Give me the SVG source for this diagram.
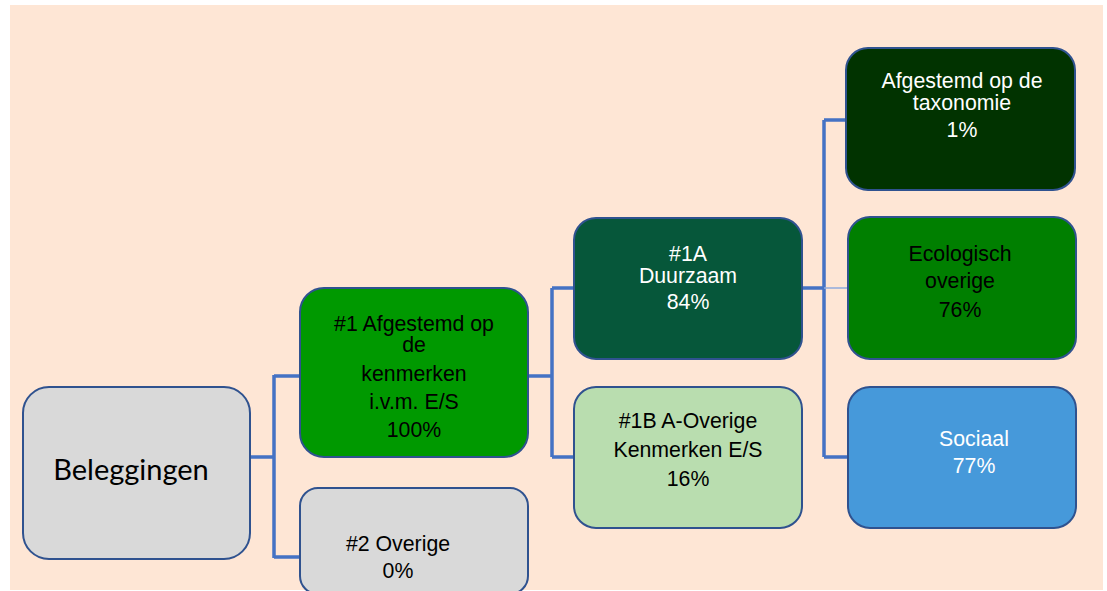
<svg xmlns="http://www.w3.org/2000/svg" width="1107" height="591" viewBox="0 0 1107 591">
<style>
.box{stroke:#2F528F;stroke-width:2}
.t{font-family:"Liberation Sans",Arial,sans-serif;font-size:21.3px;text-anchor:middle}
.w{fill:#FFFFFF}
.k{fill:#000000}
.c{fill:none;stroke:#4472C4;stroke-width:3.5}
</style>
<rect x="0" y="0" width="1107" height="591" fill="#FFFFFF"/>
<rect x="10" y="5" width="1093" height="585" fill="#FEE6D5"/>
<g id="connectors">
<path class="c" d="M250,457 H274 M274,375 V558 M274,376 H300 M274,557 H300"/>
<path class="c" d="M528,376 H552 M552,288 V457 M552,288 H574 M552,457 H574"/>
<path class="c" d="M802,288 H824 M824,120 V457 M824,120 H846 M824,457 H848"/>
<path d="M824,288 H848" fill="none" stroke="#8FAADC" stroke-width="1.5"/>
</g>
<g id="beleggingen">
<rect class="box" x="23" y="387" width="227" height="172" rx="26" fill="#D9D9D9"/>
<text x="131" y="480" text-anchor="middle" font-family="Lato,'Open Sans',sans-serif" font-size="29" fill="#000">Beleggingen</text>
</g>
<g id="n1">
<rect class="box" x="300" y="288" width="228" height="169" rx="24" fill="#009900"/>
<text class="t k"><tspan x="414" y="331">#1 Afgestemd op</tspan><tspan x="414" y="352">de</tspan><tspan x="414" y="381">kenmerken</tspan><tspan x="414" y="409">i.v.m. E/S</tspan><tspan x="414" y="437">100%</tspan></text>
</g>
<g id="n2">
<rect class="box" x="300" y="488" width="228" height="106" rx="18" fill="#D9D9D9"/>
<text class="t k"><tspan x="398" y="551">#2 Overige</tspan><tspan x="398" y="578">0%</tspan></text>
</g>
<g id="n1a">
<rect class="box" x="574" y="218" width="228" height="141" rx="22" fill="#06573A"/>
<text class="t w"><tspan x="688" y="261">#1A</tspan><tspan x="688" y="283">Duurzaam</tspan><tspan x="688" y="309">84%</tspan></text>
</g>
<g id="n1b">
<rect class="box" x="574" y="387" width="228" height="141" rx="22" fill="#B9DDAF"/>
<text class="t k"><tspan x="688" y="428">#1B A-Overige</tspan><tspan x="688" y="457">Kenmerken E/S</tspan><tspan x="688" y="486">16%</tspan></text>
</g>
<g id="taxonomie">
<rect class="box" x="846" y="48" width="229" height="142" rx="22" fill="#013300"/>
<text class="t w"><tspan x="962" y="88">Afgestemd op de</tspan><tspan x="962" y="110">taxonomie</tspan><tspan x="962" y="137">1%</tspan></text>
</g>
<g id="ecologisch">
<rect class="box" x="848" y="217" width="228" height="142" rx="22" fill="#007F00"/>
<text class="t k"><tspan x="960" y="261">Ecologisch</tspan><tspan x="960" y="288">overige</tspan><tspan x="960" y="317">76%</tspan></text>
</g>
<g id="sociaal">
<rect class="box" x="848" y="387" width="228" height="141" rx="22" fill="#4699DA"/>
<text class="t w"><tspan x="974" y="446">Sociaal</tspan><tspan x="974" y="473">77%</tspan></text>
</g>
</svg>
